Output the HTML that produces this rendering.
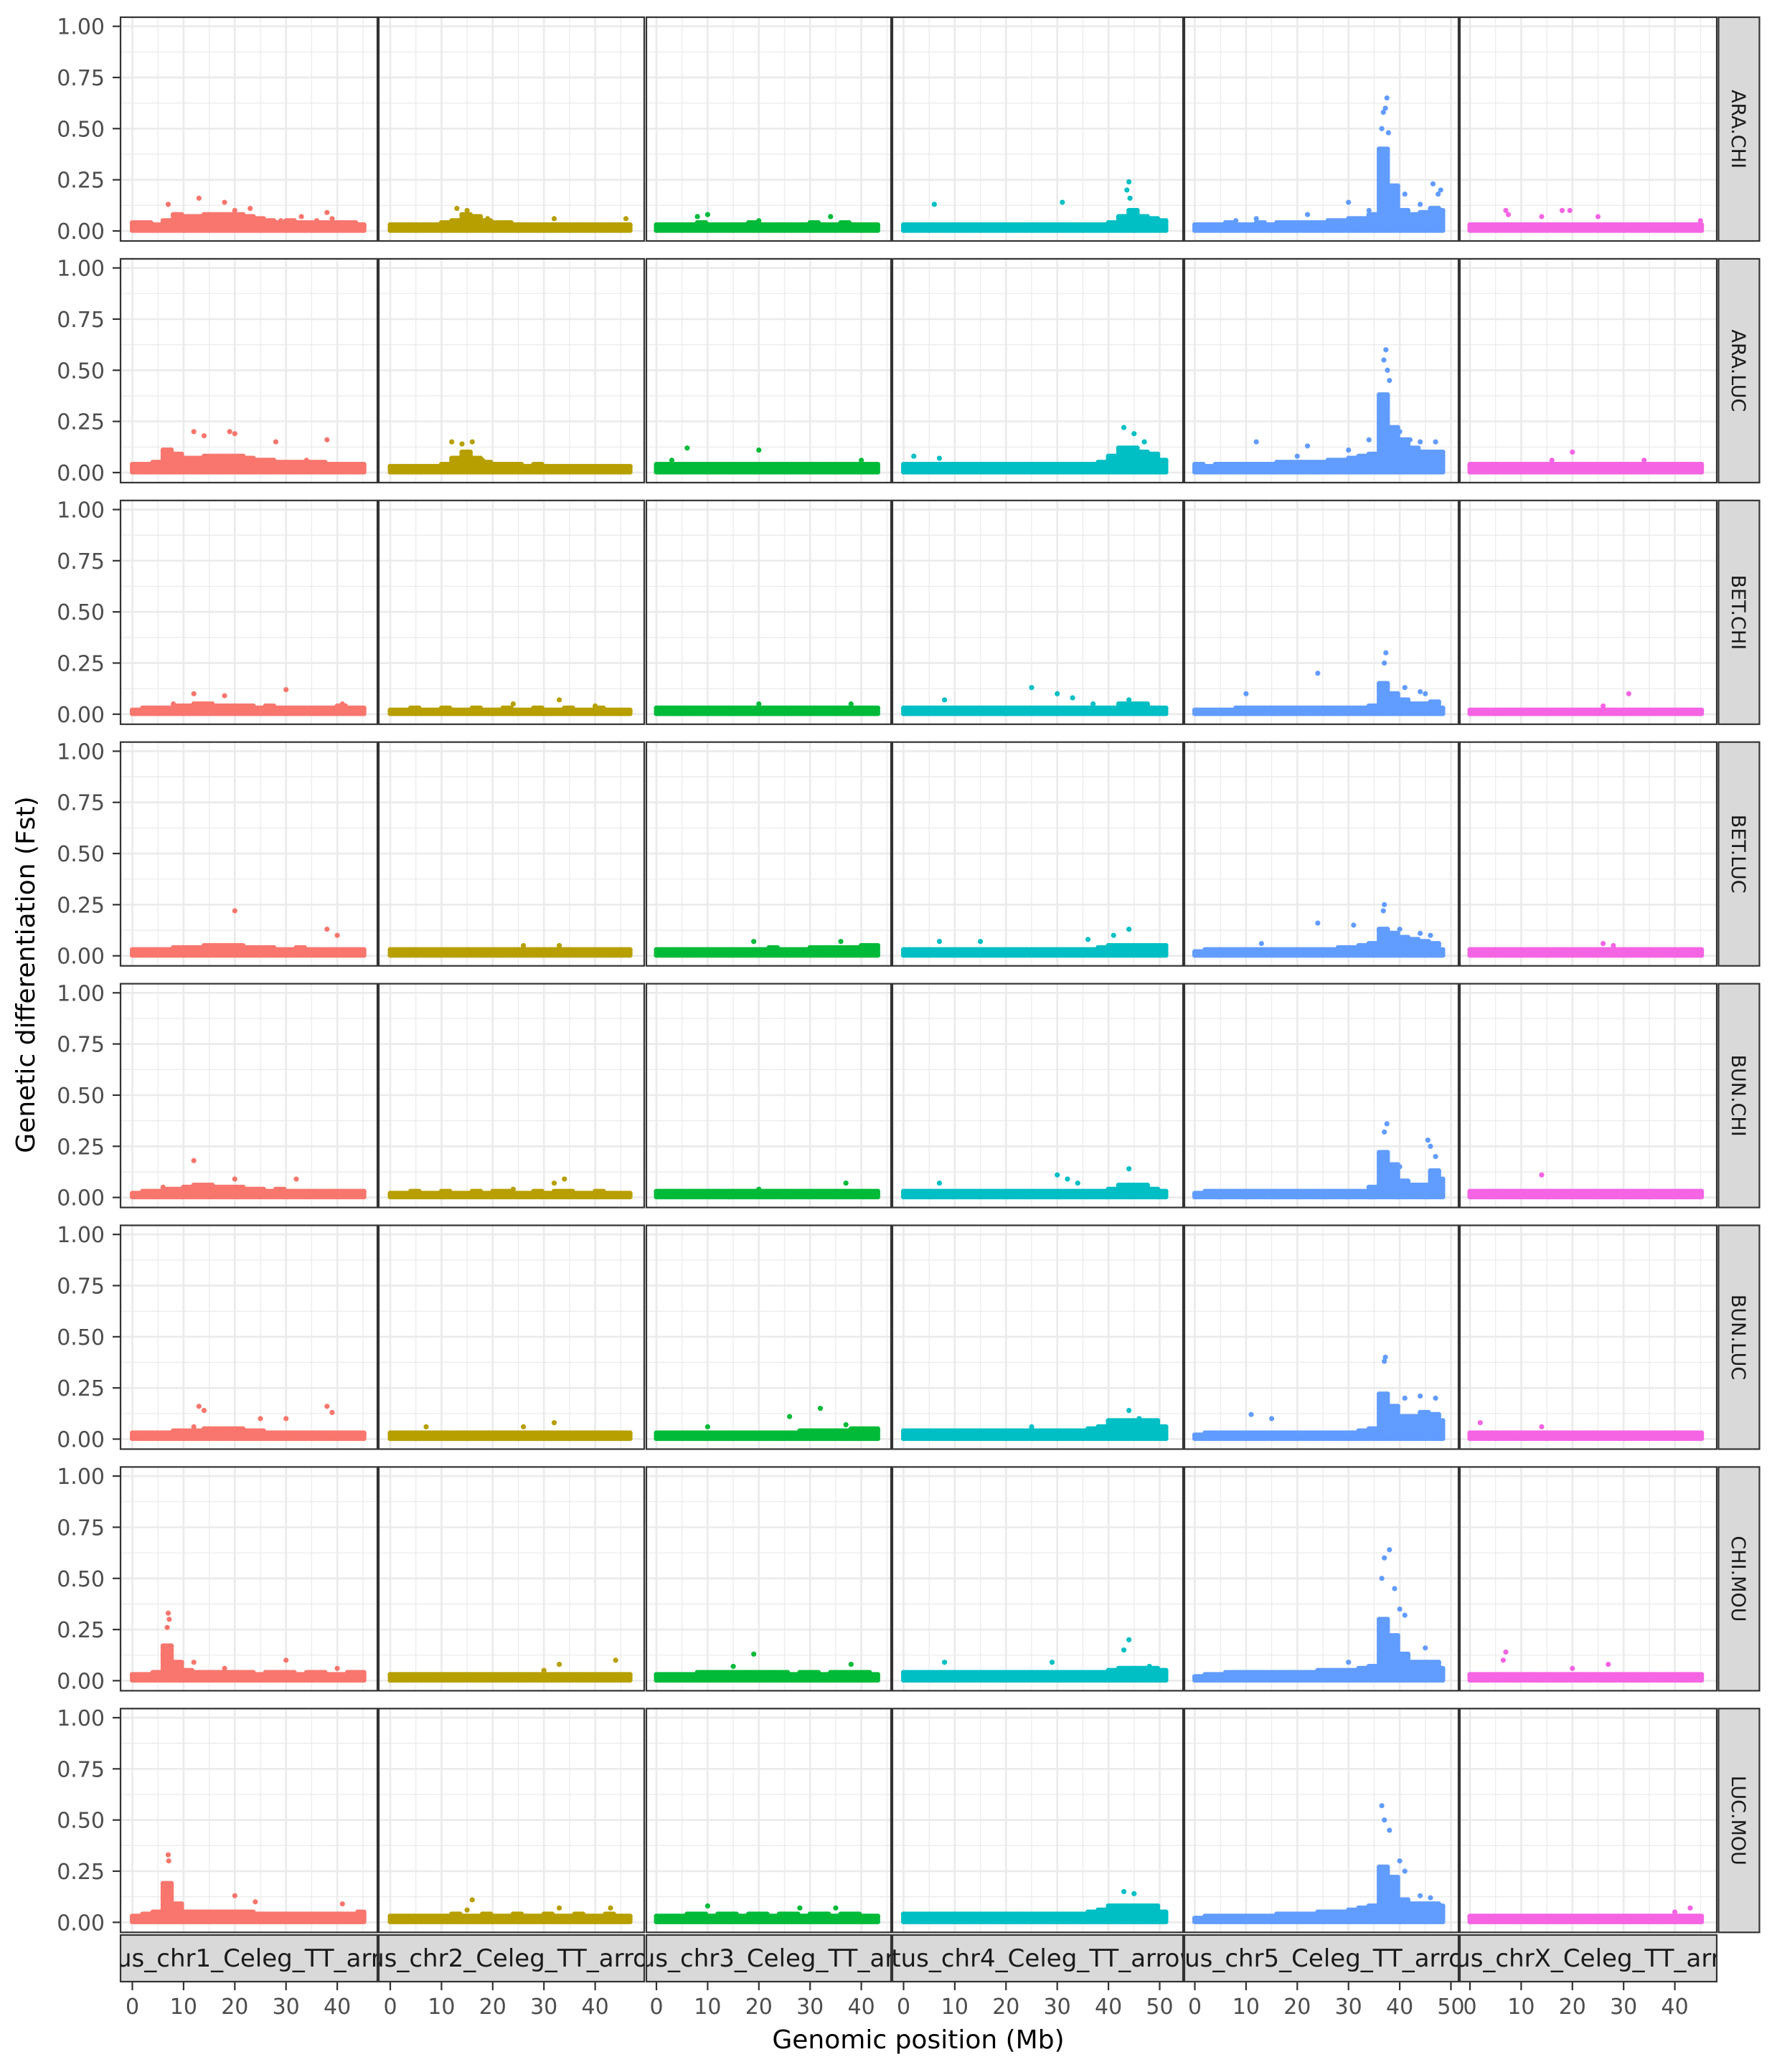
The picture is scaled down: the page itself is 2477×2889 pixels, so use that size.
<!DOCTYPE html>
<html><head><meta charset="utf-8">
<style>
html,body{margin:0;padding:0;background:#fff;}
svg{display:block;font-family:"DejaVu Sans","Liberation Sans",sans-serif;}
</style></head>
<body>
<svg id="chart" xmlns="http://www.w3.org/2000/svg" width="2477" height="2889" viewBox="0 0 2477 2889">
<rect x="0" y="0" width="2477" height="2889" fill="#fff"/>
<text x="0" y="0" transform="translate(48,1359) rotate(-90)" text-anchor="middle" font-size="36" fill="#000">Genetic differentiation (Fst)</text>
<text x="1280" y="2856" text-anchor="middle" font-size="36" fill="#000">Genomic position (Mb)</text>
</svg>
<script>
// ---- data ----
const rowLabels = ["ARA.CHI","ARA.LUC","BET.CHI","BET.LUC","BUN.CHI","BUN.LUC","CHI.MOU","LUC.MOU"];
const chromLabels = ["ilus_chr1_Celeg_TT_arro","ilus_chr2_Celeg_TT_arrow","lus_chr3_Celeg_TT_arr","ntus_chr4_Celeg_TT_arrow","ntus_chr5_Celeg_TT_arrow","ilus_chrX_Celeg_TT_arro"];
const chromLengths = [45.5, 47, 43.5, 51.5, 48.5, 45.5];
const xTicks = [[0,10,20,30,40],[0,10,20,30,40],[0,10,20,30,40],[0,10,20,30,40,50],[0,10,20,30,40,50],[0,10,20,30,40]];
const yTicks = [0, 0.25, 0.5, 0.75, 1.0];
const yTickLabels = ["0.00","0.25","0.50","0.75","1.00"];
const binSize = 2;

// envelopes (upper Fst of dense band per 2 Mb bin) and outliers [Mb, Fst]
const env_ARA_CHI = [
[.04,.04,.03,.05,.08,.07,.07,.08,.08,.08,.08,.07,.06,.05,.04,.05,.04,.04,.04,.04,.04,.04,.03,.03],
[.03,.03,.03,.03,.03,.04,.05,.08,.07,.05,.04,.04,.03,.03,.03,.03,.03,.03,.03,.03,.03,.03,.03,.03],
[.03,.03,.03,.03,.04,.03,.03,.03,.03,.04,.03,.03,.03,.03,.03,.04,.03,.03,.04,.03,.03,.03],
[.03,.03,.03,.03,.03,.03,.03,.03,.03,.03,.03,.03,.03,.03,.03,.03,.03,.03,.03,.03,.04,.07,.1,.07,.06,.05],
[.03,.03,.03,.04,.03,.03,.04,.03,.04,.04,.04,.04,.04,.05,.05,.06,.06,.08,.4,.22,.1,.08,.09,.11,.1],
[.03,.03,.03,.03,.03,.03,.03,.03,.03,.03,.03,.03,.03,.03,.03,.03,.03,.03,.03,.03,.03,.03,.03]];
const out_ARA_CHI = [
[[7,.13],[13,.16],[18,.14],[20,.1],[23,.11],[29,.05],[33,.07],[36,.05],[38,.09],[39,.06]],
[[13,.11],[15,.1],[19,.06],[32,.06],[46,.06]],
[[10,.08],[8,.07],[20,.05],[34,.07]],
[[6,.13],[31,.14],[44,.24],[43.6,.2],[44.2,.16]],
[[8,.05],[12,.06],[22,.08],[30,.14],[34,.1],[37.5,.65],[36.8,.58],[37.2,.6],[36.5,.5],[37.8,.48],[41,.18],[44,.13],[46.5,.23],[48,.2],[47.5,.18]],
[[7,.1],[7.5,.08],[18,.1],[19.5,.1],[14,.07],[25,.07],[45,.05]]];

const env_ARA_LUC = [
[.04,.04,.05,.11,.09,.07,.07,.08,.08,.08,.08,.07,.06,.06,.05,.05,.05,.05,.05,.04,.04,.04,.04,.03],
[.03,.03,.03,.03,.03,.04,.07,.1,.07,.05,.04,.04,.04,.03,.04,.03,.03,.03,.03,.03,.03,.03,.03,.03],
[.04,.04,.04,.04,.04,.04,.04,.04,.04,.04,.04,.04,.04,.04,.04,.04,.04,.04,.04,.04,.04,.04],
[.04,.04,.04,.04,.04,.04,.04,.04,.04,.04,.04,.04,.04,.04,.04,.04,.04,.04,.04,.05,.08,.12,.12,.1,.09,.06],
[.04,.03,.04,.04,.04,.04,.04,.04,.05,.05,.05,.05,.05,.06,.06,.07,.08,.09,.38,.22,.16,.12,.1,.1,.1],
[.04,.04,.04,.04,.04,.04,.04,.04,.04,.04,.04,.04,.04,.04,.04,.04,.04,.04,.04,.04,.04,.04,.04]];
const out_ARA_LUC = [
[[12,.2],[14,.18],[19,.2],[20,.19],[28,.15],[38,.16],[34,.06]],
[[12,.15],[14,.14],[16,.15],[18,.06]],
[[6,.12],[20,.11],[3,.06],[40,.06]],
[[2,.08],[7,.07],[43,.22],[45,.19],[47,.15]],
[[12,.15],[22,.13],[20,.08],[34,.16],[30,.11],[37.3,.6],[36.9,.55],[37.6,.5],[38,.45],[40,.2],[42,.16],[44,.15],[47,.15]],
[[20,.1],[16,.06],[34,.06]]];

const env_BET_CHI = [
[.02,.03,.03,.03,.04,.04,.05,.05,.04,.04,.04,.04,.03,.04,.03,.03,.03,.03,.03,.03,.04,.03,.03,.03],
[.02,.02,.03,.02,.02,.03,.02,.02,.03,.02,.02,.03,.02,.02,.03,.02,.02,.03,.02,.02,.03,.02,.02,.02],
[.03,.03,.03,.03,.03,.03,.03,.03,.03,.03,.03,.03,.03,.03,.03,.03,.03,.03,.03,.03,.03,.03],
[.03,.03,.03,.03,.03,.03,.03,.03,.03,.03,.03,.03,.03,.03,.03,.03,.03,.03,.03,.03,.03,.05,.05,.05,.03,.03],
[.02,.02,.02,.02,.03,.03,.03,.03,.03,.03,.03,.03,.03,.03,.03,.03,.03,.04,.15,.1,.07,.05,.05,.06,.03],
[.02,.02,.02,.02,.02,.02,.02,.02,.02,.02,.02,.02,.02,.02,.02,.02,.02,.02,.02,.02,.02,.02,.02]];
const out_BET_CHI = [
[[12,.1],[18,.09],[30,.12],[8,.05],[41,.05]],
[[24,.05],[33,.07],[40,.04]],
[[20,.05],[38,.05]],
[[8,.07],[25,.13],[30,.1],[33,.08],[37,.05],[44,.07]],
[[10,.1],[24,.2],[37.3,.3],[37,.25],[41,.13],[44,.11],[45,.1]],
[[31,.1],[26,.04]]];

const env_BET_LUC = [
[.03,.03,.03,.03,.04,.04,.04,.05,.05,.05,.05,.04,.04,.04,.03,.03,.04,.03,.03,.03,.03,.03,.03,.03],
[.03,.03,.03,.03,.03,.03,.03,.03,.03,.03,.03,.03,.03,.03,.03,.03,.03,.03,.03,.03,.03,.03,.03,.03],
[.03,.03,.03,.03,.03,.03,.03,.03,.03,.03,.03,.04,.03,.03,.03,.04,.04,.04,.04,.04,.05,.05],
[.03,.03,.03,.03,.03,.03,.03,.03,.03,.03,.03,.03,.03,.03,.03,.03,.03,.03,.03,.04,.05,.05,.05,.05,.05,.05],
[.02,.03,.03,.03,.03,.03,.03,.03,.03,.03,.03,.03,.03,.03,.04,.04,.05,.06,.13,.11,.09,.08,.07,.06,.03],
[.03,.03,.03,.03,.03,.03,.03,.03,.03,.03,.03,.03,.03,.03,.03,.03,.03,.03,.03,.03,.03,.03,.03]];
const out_BET_LUC = [
[[20,.22],[38,.13],[40,.1],[16,.05]],
[[26,.05],[33,.05]],
[[19,.07],[36,.07]],
[[7,.07],[15,.07],[36,.08],[44,.13],[41,.1]],
[[24,.16],[31,.15],[13,.06],[37,.25],[36.8,.22],[40,.13],[44,.11],[46,.1]],
[[26,.06],[28,.05]]];

const env_BUN_CHI = [
[.02,.03,.03,.04,.04,.05,.06,.06,.05,.05,.05,.04,.04,.03,.04,.03,.03,.03,.03,.03,.03,.03,.03,.02],
[.02,.02,.03,.02,.02,.03,.02,.02,.03,.02,.03,.03,.02,.02,.03,.02,.03,.03,.02,.02,.03,.02,.02,.02],
[.03,.03,.03,.03,.03,.03,.03,.03,.03,.03,.03,.03,.03,.03,.03,.03,.03,.03,.03,.03,.03,.03],
[.03,.03,.03,.03,.03,.03,.03,.03,.03,.03,.03,.03,.03,.03,.03,.03,.03,.03,.03,.03,.04,.06,.06,.06,.04,.03],
[.02,.03,.03,.03,.03,.03,.03,.03,.03,.03,.03,.03,.03,.03,.03,.03,.03,.05,.22,.16,.08,.06,.06,.13,.09],
[.03,.03,.03,.03,.03,.03,.03,.03,.03,.03,.03,.03,.03,.03,.03,.03,.03,.03,.03,.03,.03,.03,.03]];
const out_BUN_CHI = [
[[12,.18],[20,.09],[32,.09],[6,.05]],
[[24,.04],[32,.07],[34,.09]],
[[20,.04],[37,.07]],
[[7,.07],[30,.11],[32,.09],[34,.07],[44,.14]],
[[37.5,.36],[37,.32],[40,.15],[45.5,.28],[46,.25],[47,.2]],
[[14,.11]]];

const env_BUN_LUC = [
[.03,.03,.03,.03,.04,.04,.04,.05,.05,.05,.05,.04,.04,.03,.03,.03,.03,.03,.03,.03,.03,.03,.03,.03],
[.03,.03,.03,.03,.03,.03,.03,.03,.03,.03,.03,.03,.03,.03,.03,.03,.03,.03,.03,.03,.03,.03,.03,.03],
[.03,.03,.03,.03,.03,.03,.03,.03,.03,.03,.03,.03,.03,.03,.04,.04,.04,.04,.04,.05,.05,.05],
[.04,.04,.04,.04,.04,.04,.04,.04,.04,.04,.04,.04,.04,.04,.04,.04,.04,.04,.05,.06,.09,.09,.09,.09,.09,.06],
[.02,.03,.03,.03,.03,.03,.03,.03,.03,.03,.03,.03,.03,.03,.03,.03,.04,.05,.22,.16,.11,.11,.13,.12,.09],
[.03,.03,.03,.03,.03,.03,.03,.03,.03,.03,.03,.03,.03,.03,.03,.03,.03,.03,.03,.03,.03,.03,.03]];
const out_BUN_LUC = [
[[13,.16],[14,.14],[25,.1],[30,.1],[38,.16],[39,.13],[12,.06]],
[[7,.06],[32,.08],[26,.06]],
[[26,.11],[32,.15],[10,.06],[37,.07]],
[[44,.14],[46,.1],[25,.06]],
[[37.2,.4],[37,.38],[11,.12],[15,.1],[41,.2],[44,.21],[47,.2]],
[[2,.08],[14,.06]]];

const env_CHI_MOU = [
[.03,.03,.04,.17,.09,.05,.04,.04,.04,.04,.04,.04,.03,.04,.04,.04,.03,.04,.04,.03,.03,.04,.04,.04],
[.03,.03,.03,.03,.03,.03,.03,.03,.03,.03,.03,.03,.03,.03,.03,.03,.03,.03,.03,.03,.03,.03,.03,.03],
[.03,.03,.03,.03,.04,.04,.04,.04,.04,.04,.04,.04,.04,.03,.04,.04,.03,.04,.04,.04,.04,.03],
[.04,.04,.04,.04,.04,.04,.04,.04,.04,.04,.04,.04,.04,.04,.04,.04,.04,.04,.04,.04,.05,.06,.06,.06,.06,.05],
[.02,.03,.03,.04,.04,.04,.04,.04,.04,.04,.04,.04,.05,.05,.05,.05,.06,.07,.3,.22,.13,.09,.09,.09,.06],
[.03,.03,.03,.03,.03,.03,.03,.03,.03,.03,.03,.03,.03,.03,.03,.03,.03,.03,.03,.03,.03,.03,.03]];
const out_CHI_MOU = [
[[7,.33],[7.2,.3],[6.8,.26],[12,.09],[18,.06],[30,.1],[40,.06]],
[[33,.08],[44,.1],[30,.05]],
[[19,.13],[15,.07],[38,.08]],
[[8,.09],[29,.09],[44,.2],[43,.15],[48,.07]],
[[38,.64],[37,.6],[36.5,.5],[39,.45],[40,.35],[41,.32],[45,.16],[30,.09]],
[[7,.14],[6.5,.1],[20,.06],[27,.08]]];

const env_LUC_MOU = [
[.03,.04,.05,.19,.09,.05,.05,.05,.05,.05,.05,.05,.04,.04,.04,.04,.04,.04,.04,.04,.04,.04,.05,.04],
[.03,.03,.03,.03,.03,.03,.04,.03,.03,.04,.03,.03,.04,.03,.03,.04,.03,.03,.04,.03,.03,.04,.03,.03],
[.03,.03,.03,.04,.04,.03,.04,.04,.03,.04,.04,.03,.04,.04,.03,.04,.04,.03,.04,.04,.03,.03],
[.04,.04,.04,.04,.04,.04,.04,.04,.04,.04,.04,.04,.04,.04,.04,.04,.04,.04,.05,.06,.08,.08,.08,.08,.08,.05],
[.02,.03,.03,.03,.03,.03,.03,.03,.04,.04,.04,.04,.05,.05,.05,.06,.07,.08,.27,.22,.11,.09,.09,.09,.08],
[.03,.03,.03,.03,.03,.03,.03,.03,.03,.03,.03,.03,.03,.03,.03,.03,.03,.03,.03,.03,.03,.03,.03]];
const out_LUC_MOU = [
[[7,.33],[7.1,.3],[20,.13],[24,.1],[41,.09]],
[[16,.11],[15,.06],[33,.07],[43,.07]],
[[10,.08],[28,.07],[35,.07]],
[[43,.15],[45,.14]],
[[36.5,.57],[37,.5],[38,.45],[40,.3],[41,.25],[44,.13],[46,.12]],
[[43,.07],[40,.05]]];

const envelopes = [env_ARA_CHI,env_ARA_LUC,env_BET_CHI,env_BET_LUC,env_BUN_CHI,env_BUN_LUC,env_CHI_MOU,env_LUC_MOU];
const outliers = [out_ARA_CHI,out_ARA_LUC,out_BET_CHI,out_BET_LUC,out_BUN_CHI,out_BUN_LUC,out_CHI_MOU,out_LUC_MOU];

// ---- layout ----
const colors = ["#F8766D","#B79F00","#00BA38","#00BFC4","#619CFF","#F564E3"];
const colLeft  = [168, 528, 901, 1244, 1651, 2035];
const colRight = [526, 898, 1242, 1649, 2033, 2393];
const colZero  = [184.5, 544, 915, 1259.5, 1665.5, 2049];
const pxPerMb = 7.14;
const rowTop0 = 24, rowPitch = 336.9, rowH = 312, zeroOff = 298, pxPerUnit = 285.3;

const NS = "http://www.w3.org/2000/svg";
const svg = document.getElementById("chart");
function mk(tag, attrs, parent){
  const e = document.createElementNS(NS, tag);
  for (const k in attrs) e.setAttribute(k, attrs[k]);
  (parent||svg).appendChild(e);
  return e;
}
function xScale(c, mb){ return colZero[c] + mb*pxPerMb; }
function yScale(r, v){ return rowTop0 + r*rowPitch + zeroOff - v*pxPerUnit; }

const defs = mk("defs", {});

for (let r = 0; r < 8; r++) {
  const top = rowTop0 + r*rowPitch;
  yTicks.forEach((t, i) => {
    const y = yScale(r, t);
    const tk = mk("line", {x1:157, x2:168, y1:y, y2:y, stroke:"#333", "stroke-width":2.2});
    
    
    const lb = mk("text", {x:146, y:y+11, "text-anchor":"end", "font-size":30, fill:"#4d4d4d"});
    lb.textContent = yTickLabels[i];
    
    
  });
  for (let c = 0; c < 6; c++) {
    const L = colLeft[c], R = colRight[c];
    const g = mk("g", {});
    
    
    const cid = "clip" + r + "_" + c;
    const cp = mk("clipPath", {id:cid}, defs);
    mk("rect", {x:L, y:top, width:R-L, height:rowH}, cp);
    mk("rect", {x:L, y:top, width:R-L, height:rowH, fill:"#fff"}, g);
    const grid = mk("g", {"clip-path":"url(#"+cid+")"}, g);
    
    
    [0.125,0.375,0.625,0.875].forEach(v => {
      const y = yScale(r, v);
      mk("line", {x1:L, x2:R, y1:y, y2:y, stroke:"#ebebeb", "stroke-width":1.3}, grid);
    });
    for (let m = 5; m < 60; m += 10) {
      const x = xScale(c, m);
      if (x < R) mk("line", {x1:x, x2:x, y1:top, y2:top+rowH, stroke:"#ebebeb", "stroke-width":1.3}, grid);
    }
    yTicks.forEach(v => {
      const y = yScale(r, v);
      mk("line", {x1:L, x2:R, y1:y, y2:y, stroke:"#ebebeb", "stroke-width":2.7}, grid);
    });
    for (let m = 0; m < 60; m += 10) {
      const x = xScale(c, m);
      if (x < R) mk("line", {x1:x, x2:x, y1:top, y2:top+rowH, stroke:"#ebebeb", "stroke-width":2.7}, grid);
    }
    const pts = mk("g", {fill:colors[c], "clip-path":"url(#"+cid+")"}, g);
    
    
    const env = envelopes[r][c];
    const Lmb = chromLengths[c];
    env.forEach((v, i) => {
      for (let dx = 0; dx < binSize; dx += 0.4) {
        const mb = i*binSize + dx;
        if (mb > Lmb) break;
        const cx = xScale(c, mb);
        for (let fy = 0.003; fy <= v + 1e-9; fy += 0.012) {
          const p = mk("circle", {cx:cx, cy:yScale(r, fy), r:3.6}, pts);
          
          
        }
        const p2 = mk("circle", {cx:cx, cy:yScale(r, v), r:3.6}, pts);
        
        
      }
    });
    outliers[r][c].forEach(o => {
      const p = mk("circle", {cx:xScale(c, o[0]), cy:yScale(r, o[1]), r:3.6}, pts);
      
      
    });
    mk("rect", {x:L, y:top, width:R-L, height:rowH, fill:"none", stroke:"#333", "stroke-width":2.2}, g);
  }
  const rs = mk("rect", {x:2395.5, y:top, width:57, height:rowH, fill:"#d9d9d9", stroke:"#333", "stroke-width":2.2});
  
  
  const rt = mk("text", {x:0, y:0, transform:"translate(2414," + (top + rowH/2) + ") rotate(90)", "text-anchor":"middle", "font-size":27, fill:"#1a1a1a"});
  rt.textContent = rowLabels[r];
  
  
}

for (let c = 0; c < 6; c++) {
  const L = colLeft[c], R = colRight[c];
  const cid = "sclip" + c;
  const cp = mk("clipPath", {id:cid}, defs);
  mk("rect", {x:L, y:2698, width:R-L, height:65}, cp);
  const s = mk("rect", {x:L, y:2698, width:R-L, height:65, fill:"#d9d9d9", stroke:"#333", "stroke-width":2.2});
  
  
  const st = mk("text", {x:(L+R)/2, y:2742, "text-anchor":"middle", "font-size":34, fill:"#1a1a1a", "clip-path":"url(#"+cid+")"});
  st.textContent = chromLabels[c];
  
  
  xTicks[c].forEach(t => {
    const x = xScale(c, t);
    const tk = mk("line", {x1:x, x2:x, y1:2764, y2:2775, stroke:"#333", "stroke-width":2.2});
    
    
    const lb = mk("text", {x:x, y:2808, "text-anchor":"middle", "font-size":30, fill:"#4d4d4d"});
    lb.textContent = String(t);
    
    
  });
}
</script>
</body></html>
